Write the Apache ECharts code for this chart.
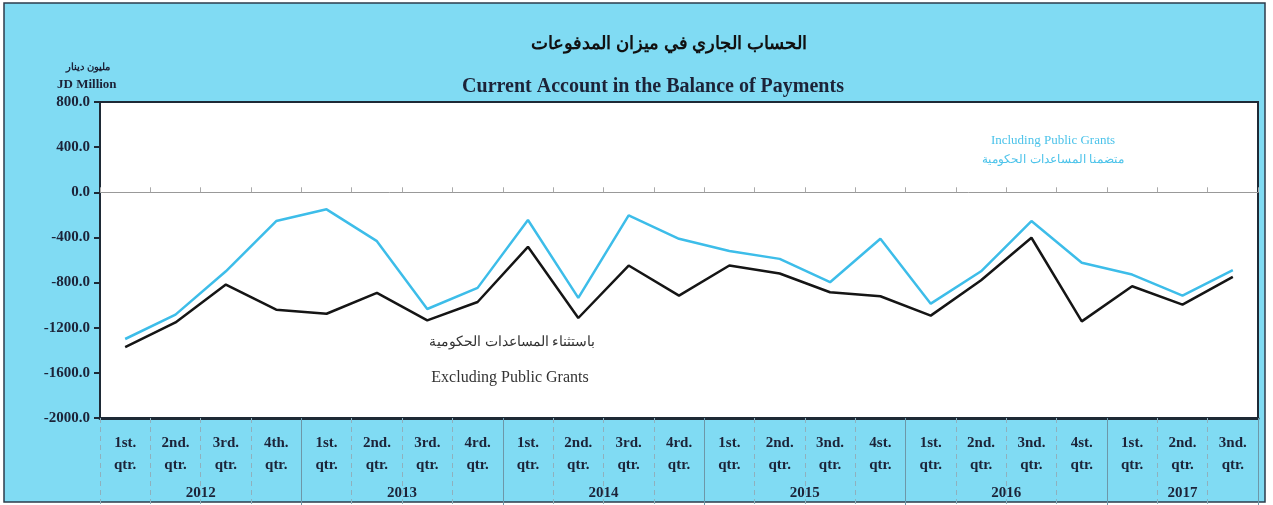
<!DOCTYPE html>
<html><head><meta charset="utf-8">
<script src="https://cdn.jsdelivr.net/npm/echarts@6/dist/echarts.min.js"></script>
<style>html,body{margin:0;padding:0;background:#fff}#c{width:1273px;height:505px}</style>
</head><body><div id="c"></div>
<script>
// ---- data ----
const quarterLabels = ['1st.','2nd.','3rd.','4th.','1st.','2nd.','3rd.','4rd.','1st.','2nd.','3rd.','4rd.','1st.','2nd.','3nd.','4st.','1st.','2nd.','3nd.','4st.','1st.','2nd.','3nd.'];
const years = ['2012','2013','2014','2015','2016','2017'];
const quartersPerYear = [4,4,4,4,4,3];
const includingGrants = [-1300,-1084,-700,-255,-151,-433,-1034,-847,-246,-936,-204,-412,-521,-590,-797,-412,-987,-700,-255,-625,-729,-916,-690];
const excludingGrants = [-1372,-1153,-818,-1040,-1076,-892,-1135,-972,-483,-1114,-649,-916,-649,-720,-886,-921,-1093,-780,-403,-1144,-833,-996,-750];
const yMin = -2000, yMax = 800, yStep = 400;

// ---- derived ----
const cats = quarterLabels.map((q, i) => i);
const yearCenters = {};
let acc = 0;
quartersPerYear.forEach((n, i) => { yearCenters[(acc + n / 2).toFixed(1)] = years[i]; acc += n; });
const yearStarts = new Set(); acc = 0;
quartersPerYear.forEach(n => { yearStarts.add(acc); acc += n; });

const navy = '#1c2338';
const serif = '"Liberation Serif","DejaVu Serif",serif';

const chart = echarts.init(document.getElementById('c'));
chart.setOption({
  backgroundColor: '#ffffff',
  animation: false,
  graphic: [
    { type: 'rect', z: -10, shape: { x: 4, y: 3, width: 1261, height: 499 },
      style: { fill: '#80dbf3', stroke: '#2c3c4c', lineWidth: 1.5 } },
    { type: 'text', left: 66, top: 62, style: { text: 'مليون دينار', font: 'bold 10px "Noto Sans", sans-serif', fill: navy } },
    { type: 'text', left: 57, top: 78, style: { text: 'JD Million', font: 'bold 13px ' + serif, fill: navy } },
    { type: 'text', x: 1053, y: 141, style: { text: 'Including Public Grants', font: '13px ' + serif, fill: '#4cc3ea', align: 'center', verticalAlign: 'middle' } },
    { type: 'text', x: 1053, y: 160, style: { text: 'متضمنا المساعدات الحكومية', font: '12px "Noto Sans", sans-serif', fill: '#4cc3ea', align: 'center', verticalAlign: 'middle' } },
    { type: 'text', x: 512, y: 342, style: { text: 'باستثناء المساعدات الحكومية', font: '14px "Noto Sans", sans-serif', fill: '#333', align: 'center', verticalAlign: 'middle' } },
    { type: 'text', x: 510, y: 378, style: { text: 'Excluding Public Grants', font: '16px ' + serif, fill: '#333', align: 'center', verticalAlign: 'middle' } }
  ],
  title: [
    { text: 'الحساب الجاري في ميزان المدفوعات', left: 664, top: 30, textAlign: 'center',
      textStyle: { fontFamily: '"Noto Sans", sans-serif', fontWeight: 'bold', fontSize: 18, color: '#111' } },
    { text: 'Current Account in the Balance of Payments', left: 648, top: 72, textAlign: 'center',
      textStyle: { fontFamily: serif, fontWeight: 'bold', fontSize: 20, color: navy } }
  ],
  grid: { left: 100, right: 15, top: 102, bottom: 87, show: true, backgroundColor: '#ffffff',
    borderColor: '#1e2a36', borderWidth: 2, containLabel: false },
  xAxis: [
    { // main category axis with quarter labels
      type: 'category', data: cats, position: 'bottom', boundaryGap: true,
      axisLine: { onZero: false, lineStyle: { color: '#1e2a36', width: 3 } },
      axisTick: { show: true, interval: 0, inside: false, length: 87, lineStyle: { color: '#8fb0bd', type: [5, 4], width: 1 } },
      axisLabel: { interval: 0, margin: 14, lineHeight: 22, color: navy, fontFamily: serif, fontWeight: 'bold', fontSize: 15,
        formatter: (v) => quarterLabels[v] + '\nqtr.' },
      splitLine: { show: false }
    },
    { // zero line
      type: 'category', data: cats, position: 'bottom', boundaryGap: true,
      axisLine: { onZero: true, lineStyle: { color: '#999', width: 1 } },
      axisTick: { show: true, interval: 0, inside: true, length: 5, lineStyle: { color: '#aaa' } },
      axisLabel: { show: false }, splitLine: { show: false }
    },
    { // year separators
      type: 'category', data: cats, position: 'bottom', boundaryGap: true,
      axisLine: { onZero: false, show: false },
      axisTick: { show: true, interval: (i) => yearStarts.has(i) && i !== 0, inside: false, length: 87, lineStyle: { color: '#6d97a8', width: 1 } },
      axisLabel: { show: false }, splitLine: { show: false }
    },
    { // year labels
      type: 'value', min: 0, max: quarterLabels.length, interval: 0.5, position: 'bottom',
      axisLine: { onZero: false, show: false }, axisTick: { show: false }, splitLine: { show: false },
      axisLabel: { margin: 68, color: navy, fontFamily: serif, fontWeight: 'bold', fontSize: 15,
        formatter: (v) => yearCenters[v.toFixed(1)] || '' }
    }
  ],
  yAxis: {
    type: 'value', min: yMin, max: yMax, interval: yStep,
    axisLine: { show: true, lineStyle: { color: '#1e2a36', width: 2 } },
    axisTick: { show: true, length: 6, lineStyle: { color: '#1e2a36', width: 2 } },
    splitLine: { show: false },
    axisLabel: { margin: 10, color: navy, fontFamily: serif, fontWeight: 'bold', fontSize: 15,
      formatter: (v) => v.toFixed(1) }
  },
  series: [
    { name: 'Including Public Grants', type: 'line', data: includingGrants, xAxisIndex: 0, symbol: 'none',
      lineStyle: { color: '#3dbde9', width: 2.5 }, z: 3 },
    { name: 'Excluding Public Grants', type: 'line', data: excludingGrants, xAxisIndex: 0, symbol: 'none',
      lineStyle: { color: '#151515', width: 2.5 }, z: 4 }
  ]
});
</script></body></html>
